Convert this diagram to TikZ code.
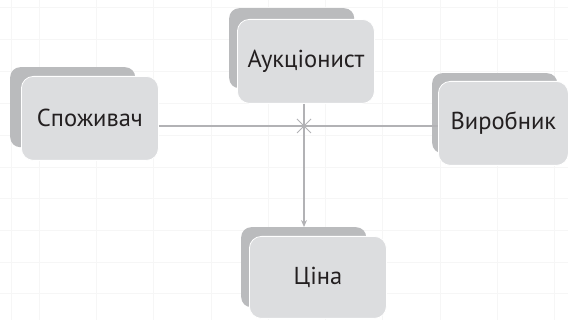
\documentclass[tikz,border=0pt]{standalone}
\usepackage{fontspec}
\setmainfont{PT Sans}
\usepackage{tikz}
\usetikzlibrary{arrows.meta, positioning, calc}
\definecolor{myfront}{RGB}{220,221,223}
\definecolor{myback}{RGB}{186,187,189}
\definecolor{mylink}{RGB}{178,178,181}
\definecolor{mygrid}{RGB}{246,246,246}
\definecolor{mytext}{RGB}{35,31,32}
\tikzset{
  frontbox/.style={rectangle, draw=white, fill=myfront, line width=0.8pt,
    minimum width=137pt, minimum height=84pt, rounded corners=12pt,
    font=\fontsize{24.5}{28}\selectfont, text=mytext},
  backbox/.style={rectangle, fill=myback, minimum width=125pt,
    minimum height=80pt, rounded corners=10pt, anchor=north west},
  link/.style={color=mylink, line width=1.5pt},
  arrow/.style={-{Stealth[length=7pt,width=6pt]}, color=mylink, line width=1.5pt}
}

\begin{document}
\begin{tikzpicture}[x=1pt, y=1pt]
  \useasboundingbox (0,0) rectangle (568,320);

  % Grid
  \foreach \gx in {11,39,96,153,211,268,325,382,440,497,554}
    \draw[mygrid, line width=0.6pt] (\gx,0) -- (\gx,320);
  \foreach \gy in {313,281,249,217,185,153,122,90,58,27}
    \draw[mygrid, line width=0.6pt] (0,\gy) -- (568,\gy);

  % Back boxes
  \node[backbox] (consbk) at (10,253) {};
  \node[backbox] (auctbk) at (229,312) {};
  \node[backbox] (prodbk) at (432,247) {};
  \node[backbox] (pricebk) at (241,93) {};

  % Front boxes
  \node[frontbox, below right=9pt and 11pt of consbk.north west] (cons) {Споживач};
  \node[frontbox, below right=11pt and 8pt of auctbk.north west] (auct) {Аукціонист};
  \node[frontbox, minimum width=130pt, below right=8pt and 6pt of prodbk.north west] (prod) {Виробник};
  \node[frontbox, minimum height=82pt, below right=9pt and 8pt of pricebk.north west] (price) {Ціна};

  % Connections
  \coordinate (hub) at (304,194);
  \draw[link] (cons.east |- hub) -- (prod.west |- hub);
  \draw[arrow] (auct.south -| hub) -- (pricebk.north -| hub);
  \draw[link, line width=1pt] ($(hub)+(-7,-7)$) -- ($(hub)+(7,7)$);
  \draw[link, line width=1pt] ($(hub)+(-7,7)$) -- ($(hub)+(7,-7)$);
\end{tikzpicture}
\end{document}
